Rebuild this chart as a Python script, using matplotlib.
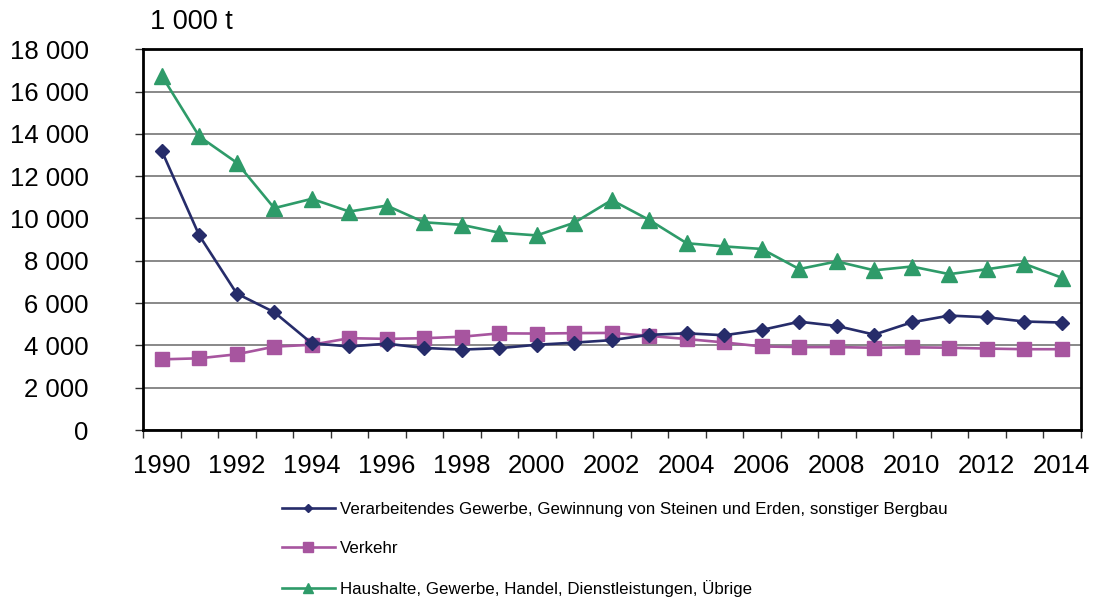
import matplotlib
matplotlib.use("Agg")
import matplotlib.pyplot as plt
from matplotlib.lines import Line2D
from matplotlib.ticker import FuncFormatter, FixedLocator

plt.rcParams["font.family"] = ["Liberation Sans", "DejaVu Sans"]

# -----------------------------
# Data (1 000 t)
# -----------------------------
years = list(range(1990, 2015))

industry = [13200, 9200, 6450, 5570, 4100, 3950, 4080, 3880, 3800, 3870,
            4030, 4130, 4250, 4500, 4570, 4480, 4730, 5120, 4920, 4510,
            5090, 5410, 5330, 5130, 5080]
transport = [3340, 3390, 3580, 3940, 4030, 4340, 4310, 4340, 4410, 4570,
             4560, 4580, 4590, 4450, 4300, 4140, 3950, 3920, 3920, 3890,
             3910, 3890, 3850, 3820, 3820]
households = [16750, 13880, 12640, 10490, 10930, 10330, 10610, 9820, 9700, 9330,
              9200, 9800, 10870, 9930, 8830, 8680, 8560, 7610, 7970, 7550,
              7730, 7370, 7600, 7860, 7200]

labels = [
    "Verarbeitendes Gewerbe, Gewinnung von Steinen und Erden, sonstiger Bergbau",
    "Verkehr",
    "Haushalte, Gewerbe, Handel, Dienstleistungen, Übrige",
]
y_ticks = list(range(0, 18001, 2000))
unit_label = "1 000 t"

NAVY = "#262C6A"
MAGENTA = "#A7559F"
GREEN = "#2E9B69"

TICK_SIZE = 18.5
LEGEND_SIZE = 12.2

fig = plt.figure(figsize=(10.98, 6.03), dpi=100)
ax = fig.add_axes([143 / 1098, 1 - 430 / 603, 937.5 / 1098, 380.7 / 603])

x = list(range(len(years)))

ax.plot(x, industry, color=NAVY, lw=1.9, marker="D", ms=7.5, zorder=3)
ax.plot(x, transport, color=MAGENTA, lw=1.9, marker="s", ms=10, zorder=2)
ax.plot(x, households, color=GREEN, lw=1.9, marker="^", ms=11, zorder=4)

ax.set_xlim(-0.5, len(years) - 0.5)
ax.set_ylim(0, 18000)

# y axis
ax.set_yticks(y_ticks)
ax.yaxis.set_major_formatter(FuncFormatter(lambda v, p: f"{int(v):,}".replace(",", " ")))
ax.tick_params(axis="y", labelsize=TICK_SIZE, length=6, width=1, direction="out",
               pad=33, color="#333333")

# x axis: labels every 2 years centred on categories, ticks at category borders
ax.set_xticks(x[::2])
ax.set_xticklabels([str(y) for y in years[::2]])
ax.xaxis.set_minor_locator(FixedLocator([i - 0.5 for i in range(len(years) + 1)]))
ax.tick_params(axis="x", which="major", labelsize=TICK_SIZE, length=0, pad=17)
ax.tick_params(axis="x", which="minor", length=6, width=1, color="#333333")

ax.set_axisbelow(True)
ax.grid(axis="y", color="#7f7f7f", lw=1.3)

for spine in ax.spines.values():
    spine.set_color("black")
    spine.set_linewidth(2)

fig.text(150 / 1098, 1 - 22 / 603, unit_label, fontsize=19.5, va="center", ha="left")

handles = [
    Line2D([], [], color=NAVY, lw=1.9, marker="D", ms=4.5),
    Line2D([], [], color=MAGENTA, lw=1.9, marker="s", ms=6.5),
    Line2D([], [], color=GREEN, lw=1.9, marker="^", ms=7),
]
fig.legend(handles, labels, loc="upper left", bbox_to_anchor=(282 / 1098, 1 - 502 / 603),
           frameon=False, fontsize=LEGEND_SIZE, handlelength=3.1, handletextpad=0.3,
           labelspacing=1.42, borderpad=0, borderaxespad=0)

fig.savefig("out.png", dpi=100)
